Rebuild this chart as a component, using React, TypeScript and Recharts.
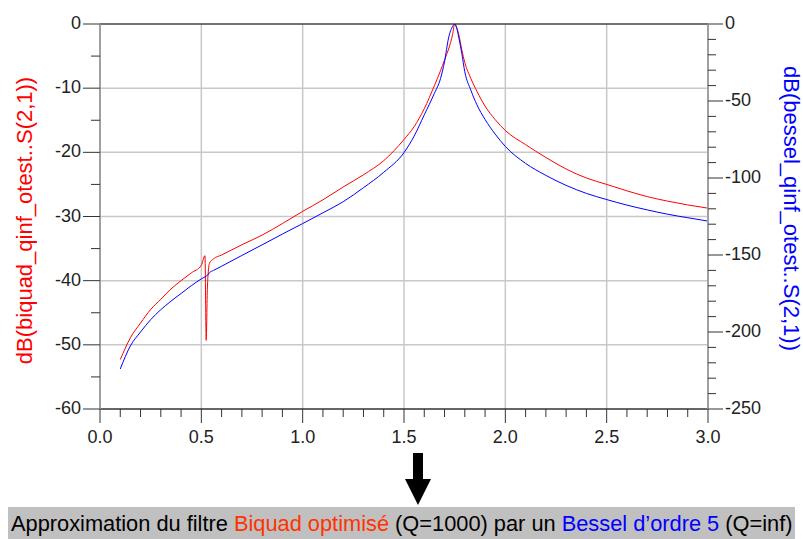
import React from "react";
import { LineChart, Line, XAxis, YAxis, ReferenceLine } from "recharts";

const freqs = [0.10,0.15,0.20,0.25,0.30,0.35,0.40,0.45,0.50,0.518,0.524,0.53,0.54,0.56,0.60,0.70,0.80,0.90,1.00,1.10,1.20,1.30,1.40,1.50,1.55,1.60,1.65,1.68,1.70,1.72,1.74,1.75,1.76,1.77,1.785,1.80,1.83,1.86,1.90,1.95,2.00,2.10,2.20,2.30,2.40,2.50,2.60,2.70,2.80,2.90,3.00];
const biquadDb = [-52.3,-48.9,-46.6,-44.5,-42.9,-41.3,-40.0,-38.8,-37.6,-36.1,-49.3,-41.0,-37.3,-36.6,-36.0,-34.4,-32.9,-31.1,-29.2,-27.4,-25.4,-23.5,-21.3,-18.0,-16.0,-13.2,-9.6,-7.3,-5.6,-3.9,-1.6,0,-0.6,-1.6,-4.0,-6.0,-8.5,-10.5,-12.8,-14.9,-16.6,-18.8,-20.8,-22.6,-24.0,-25.0,-26.0,-26.9,-27.6,-28.2,-28.7];
const besselDb = [-224,-209,-200,-192,-185.5,-180,-175,-170,-165.5,-164.2,-163.7,-163.2,-161.5,-160,-157.3,-150.3,-143.4,-136.4,-129.6,-122.6,-115.4,-106.3,-96.3,-83.5,-72.8,-59.0,-45.0,-35.5,-24.5,-9.0,-1.5,0,-2.5,-8.5,-19.0,-31,-43,-52.5,-62,-71.5,-79.5,-90.5,-98.3,-104.8,-110,-114,-117.6,-120.7,-123.5,-125.8,-128];

const xTicks = [0.0,0.1,0.2,0.3,0.4,0.5,0.6,0.7,0.8,0.9,1.0,1.1,1.2,1.3,1.4,1.5,1.6,1.7,1.8,1.9,2.0,2.1,2.2,2.3,2.4,2.5,2.6,2.7,2.8,2.9,3.0];
const leftTicks = [0,-5,-10,-15,-20,-25,-30,-35,-40,-45,-50,-55,-60];
const rightTicks = [0,-10,-20,-30,-40,-50,-60,-70,-80,-90,-100,-110,-120,-130,-140,-150,-160,-170,-180,-190,-200,-210,-220,-230,-240,-250];
const gridX = [0.5,1.0,1.5,2.0,2.5];
const gridY = [-10,-20,-30,-40,-50];

const leftTitle = "dB(biquad_qinf_otest..S(2,1))";
const rightTitle = "dB(bessel_qinf_otest..S(2,1))";

const data = freqs.map((f, i) => ({ f, biquad: biquadDb[i], bessel: besselDb[i] }));

const FONT = "'Liberation Sans', Arial, sans-serif";
const TICK_COLOR = "#333";

const isMult = (v: number, step: number) => Math.abs(v / step - Math.round(v / step)) < 1e-6;

const LeftTick = (props: any) => {
  const { x, y, payload } = props;
  const v = payload.value;
  const major = isMult(v, 10);
  const len = major ? 17 : 9;
  return (
    <g>
      <line x1={x} y1={y} x2={x - len} y2={y} stroke={TICK_COLOR} strokeWidth={1} />
      {major && (
        <text x={x - 19} y={y - 1} textAnchor="end" dominantBaseline="central" fontSize={18} fontFamily={FONT} fill="#222">
          {v}
        </text>
      )}
    </g>
  );
};

const RightTick = (props: any) => {
  const { x, y, payload } = props;
  const v = payload.value;
  const major = isMult(v, 50);
  const len = major ? 15 : 8;
  return (
    <g>
      <line x1={x} y1={y} x2={x + len} y2={y} stroke={TICK_COLOR} strokeWidth={1} />
      {major && (
        <text x={x + 17} y={y - 1} textAnchor="start" dominantBaseline="central" fontSize={18} fontFamily={FONT} fill="#222">
          {v}
        </text>
      )}
    </g>
  );
};

const BottomTick = (props: any) => {
  const { x, y, payload } = props;
  const v = payload.value;
  const major = isMult(v, 0.5);
  const len = major ? 14 : 8;
  return (
    <g>
      <line x1={x} y1={y} x2={x} y2={y + len} stroke={TICK_COLOR} strokeWidth={1} />
      {major && (
        <text x={x} y={y + 28} textAnchor="middle" dominantBaseline="central" fontSize={18} fontFamily={FONT} fill="#222">
          {v.toFixed(1)}
        </text>
      )}
    </g>
  );
};

const LeftTitle = (props: any) => {
  const vb = props.viewBox || { x: 0, y: 24, width: 100, height: 385 };
  const cx = vb.x + 24;
  const cy = vb.y + vb.height / 2 + 4;
  return (
    <text x={cx} y={cy} transform={`rotate(-90 ${cx} ${cy})`} textAnchor="middle" dominantBaseline="central" fontSize={22} fontFamily={FONT} fill="#ff0000">
      {leftTitle}
    </text>
  );
};

const RightTitle = (props: any) => {
  const vb = props.viewBox || { x: 708, y: 24, width: 95, height: 385 };
  const cx = vb.x + 83;
  const cy = vb.y + vb.height / 2 - 8;
  return (
    <text x={cx} y={cy} transform={`rotate(90 ${cx} ${cy})`} textAnchor="middle" dominantBaseline="central" fontSize={22} fontFamily={FONT} fill="#0000ff">
      {rightTitle}
    </text>
  );
};

export default function App() {
  return (
    <div style={{ position: "absolute", left: 0, top: 0, width: 803, height: 539, background: "#fff", fontFamily: FONT, overflow: "hidden" }}>
      <LineChart width={803} height={460} data={data} margin={{ top: 24, right: 0, bottom: 20, left: 0 }}>
        {gridX.map((g) => (
          <ReferenceLine key={"gx" + g} x={g} yAxisId="left" stroke="#c8c8c8" strokeWidth={1.5} />
        ))}
        {gridY.map((g) => (
          <ReferenceLine key={"gy" + g} y={g} yAxisId="left" stroke="#c8c8c8" strokeWidth={1.5} />
        ))}
        <ReferenceLine y={0} yAxisId="left" stroke="#444" strokeWidth={1.5} />
        <XAxis
          dataKey="f"
          type="number"
          domain={[0, 3]}
          ticks={xTicks}
          interval={0}
          height={31}
          tickSize={0}
          tickMargin={0}
          tickLine={false}
          axisLine={{ stroke: "#333", strokeWidth: 1.5 }}
          tick={<BottomTick />}
          allowDataOverflow
        />
        <YAxis
          yAxisId="left"
          orientation="left"
          type="number"
          domain={[-60, 0]}
          ticks={leftTicks}
          interval={0}
          width={100}
          tickSize={0}
          tickMargin={0}
          tickLine={false}
          axisLine={{ stroke: "#a0a0a0", strokeWidth: 2 }}
          tick={<LeftTick />}
          label={<LeftTitle />}
          allowDataOverflow
        />
        <YAxis
          yAxisId="right"
          orientation="right"
          type="number"
          domain={[-250, 0]}
          ticks={rightTicks}
          interval={0}
          width={95}
          tickSize={0}
          tickMargin={0}
          tickLine={false}
          axisLine={{ stroke: "#a0a0a0", strokeWidth: 2 }}
          tick={<RightTick />}
          label={<RightTitle />}
          allowDataOverflow
        />
        <Line yAxisId="left" type="monotone" dataKey="biquad" stroke="#ff0000" strokeWidth={1} dot={false} isAnimationActive={false} />
        <Line yAxisId="right" type="monotone" dataKey="bessel" stroke="#0000ff" strokeWidth={1} dot={false} isAnimationActive={false} />
      </LineChart>
      <svg width={803} height={539} style={{ position: "absolute", left: 0, top: 0, pointerEvents: "none" }}>
        <rect x={413} y={453} width={10} height={27} fill="#000" />
        <polygon points="405,479 431,479 418,505" fill="#000" />
      </svg>
      <div
        style={{
          position: "absolute",
          left: 8,
          top: 507,
          width: 787,
          height: 32,
          background: "#c0c0c0",
          fontSize: 21.8,
          lineHeight: "34px",
          paddingLeft: 3,
          boxSizing: "border-box",
          whiteSpace: "nowrap",
          color: "#000",
          fontFamily: FONT,
        }}
      >
        Approximation du filtre <span style={{ color: "#ff3300" }}>Biquad optimisé</span> (Q=1000) par un{" "}
        <span style={{ color: "#0000ff" }}>Bessel d’ordre 5</span> (Q=inf)
      </div>
    </div>
  );
}
